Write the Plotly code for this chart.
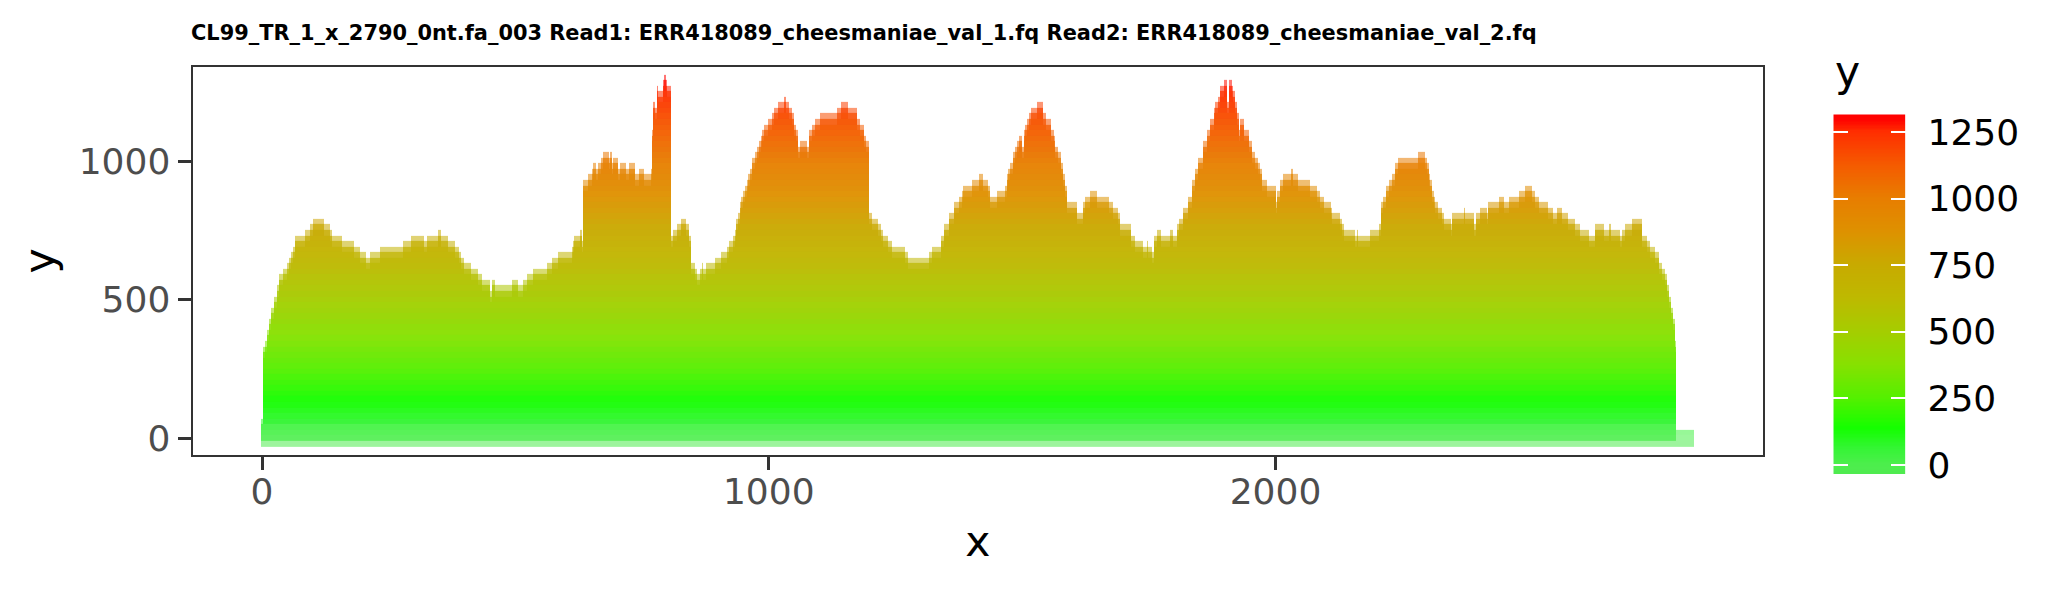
import numpy as np
import plotly.graph_objects as go

TITLE = "CL99_TR_1_x_2790_0nt.fa_003 Read1: ERR418089_cheesmaniae_val_1.fq Read2: ERR418089_cheesmaniae_val_2.fq"

position = [
 -2,2,6,10,14,18,24,30,34,42,49,54,58,62,66,85,95,101,123,134,139,158,182,193,205,213,233,279,294,319,325,348,353,367,381,388,393,399,412,426,434,450,453,
 460,494,506,516,522,535,562,573,585,611,614,615,628,631,633,644,651,654,660,664,669,672,684,687,690,693,702,707,718,724,737,743,754,767,770,772,776,780,782,791,794,798,800,807,808,812,818,826,837,843,846,847,855,858,864,868,871,876,893,906,918,922,930,
 933,936,939,943,946,950,953,957,960,962,966,972,977,981,985,987,990,999,1006,1011,1019,1030,1034,1039,1045,1049,1054,1057,1062,1075,1080,1085,1091,1101,1134,1143,1156,1175,1180,1187,1191,1197,1198,1203,1216,1221,1226,1235,1243,1268,1274,1316,1323,1340,1345,1355,1366,1376,1382,1383,1402,
 1414,1423,1432,1437,1450,1466,1470,1473,1477,1481,1485,1489,1494,1499,1503,1506,1510,1514,1518,1529,1542,1547,1557,1562,1565,1570,1576,1581,1585,1588,1608,1620,1624,1634,1647,1672,1680,1690,1694,1715,1722,1738,1746,1749,1756,1761,1766,1774,1792,1797,1805,1810,1818,1828,1835,1841,1848,1856,1864,1871,1879,
 1881,1886,1890,1899,1905,1909,1914,1917,1920,1924,1928,1930,1937,1947,1953,1960,1965,1970,1974,1983,2000,2003,2009,2014,2031,2034,2045,2068,2082,2088,2095,2110,2112,2128,2132,2136,2157,2160,2163,2187,2205,2208,2213,2218,2223,2230,2235,2241,2282,2295,2299,2303,2305,2309,2312,2315,2320,2328,2332,2347,2349,
 2371,2374,2391,2395,2404,2417,2420,2442,2450,2460,2480,2493,2506,2512,2519,2537,2548,2555,2565,2577,2591,2601,2619,2631,2649,2658,2662,2680,2683,2690,2703,2724,2733,2739,2749,2757,2762,2768,2772,2777,2781,2785,2789,2791,
]
coverage = [
 70,331,353,391,439,473,511,553,593,611,631,653,673,694,732,751,773,792,773,751,732,712,691,672,652,672,691,712,732,712,732,751,732,712,691,672,652,631,611,593,571,529,571,
 552,571,552,571,593,612,631,652,672,691,712,732,751,712,932,953,972,992,972,992,1011,1031,1011,1031,992,1011,972,992,972,992,953,972,953,972,1112,1214,1196,1270,1250,1292,1311,1292,1270,853,733,751,773,792,773,732,712,631,611,593,612,631,611,631,652,672,691,712,732,
 750,793,812,852,872,893,914,932,953,972,1012,1031,1052,1072,1091,1112,1132,1151,1172,1192,1211,1232,1211,1193,1172,1132,1112,1052,1072,1052,1112,1132,1151,1172,1192,1211,1192,1151,1132,1091,1072,1052,812,792,773,751,732,712,691,672,652,672,691,732,773,812,852,872,893,912,932,
 953,932,912,872,892,912,952,972,992,1031,1052,1072,1091,1052,1112,1132,1151,1172,1192,1211,1172,1151,1112,1091,1052,1031,992,952,914,852,812,852,872,892,872,852,832,812,773,732,712,691,712,691,673,732,751,732,751,732,772,792,833,872,932,972,1012,1072,1112,1151,1192,
 1211,1232,1272,1292,1214,1292,1272,1252,1211,1172,1112,1151,1112,1072,1031,1012,992,972,932,912,848,893,932,952,972,952,932,912,892,872,852,832,812,792,772,751,731,751,731,751,772,852,872,912,932,952,992,1012,1031,1012,992,952,932,892,872,852,832,812,792,772,812,
 833,812,772,812,832,812,852,872,852,872,892,912,892,872,852,832,812,832,812,792,773,751,732,772,751,772,751,731,751,772,792,732,712,691,672,631,611,593,553,511,473,433,353,34,
]
x_end = 2825
colorbar_ticks = [0, 250, 500, 750, 1000, 1250]
y_ticks = [0, 500, 1000]
x_ticks = [0, 1000, 2000]

# colour scale
VMIN, VMAX = -34, 1316
scale_values = [-34, 0, 60, 135, 250, 375, 500, 625, 750, 875, 1000, 1125, 1250, 1290, 1316]
scale_colors = ["#50EB50", "#4CEE4C", "#34F534", "#14FF00", "#55F000", "#87E100", "#A5CD00", "#BEB900",
                "#C8AA00", "#DE9100", "#E87D00", "#F55A00", "#FF2D00", "#FF0500", "#FF0000"]
colorscale = [[(v - VMIN) / (VMAX - VMIN), c] for v, c in zip(scale_values, scale_colors)]

W, H = 2066, 590
L, R, T, B = 192.5, 1763, 66.6, 455.4

xs = np.array(position, float)
cov = np.array(coverage, float)
x_edges = np.append(xs, x_end)
y_edges = np.concatenate([[-31], np.arange(-8, 1340, 20)])
y_cent = (y_edges[:-1] + y_edges[1:]) / 2
tops = y_edges[1:]


def layer(drop, min_row, with_tail):
    z = np.full((len(y_cent), len(xs)), np.nan)
    for j, c in enumerate(cov):
        if not with_tail and xs[j] >= 2791:
            continue
        mask = tops <= c - drop + 6
        mask[:min_row] = False
        z[mask, j] = y_cent[mask]
    return z


fig = go.Figure()
for drop, min_row, tail, op in [(0, 0, True, 0.55), (20, 1, False, 0.75), (40, 4, False, 0.6)]:
    fig.add_trace(go.Heatmap(x=x_edges, y=y_edges, z=layer(drop, min_row, tail), zmin=VMIN, zmax=VMAX,
                             colorscale=colorscale, showscale=False, opacity=op, zsmooth=False,
                             hoverongaps=False, name="y"))

legend_y = np.arange(VMIN, VMAX + 1, 5.0)
fig.add_trace(go.Heatmap(x=[0, 1], y=np.append(legend_y, VMAX + 5), z=legend_y[:, None], zmin=VMIN, zmax=VMAX,
                         colorscale=colorscale, showscale=False, xaxis="x2", yaxis="y2", zsmooth=False))

ppx = (768.75 - 262) / 1000
ppy = (438.5 - 161) / 1000
axis_common = dict(automargin=False, showgrid=False, zeroline=False, showline=True, mirror=True, linecolor="#333333", linewidth=2,
                   ticks="outside", ticklen=13, tickwidth=2.5, tickcolor="#333333",
                   tickfont=dict(family="DejaVu Sans", size=36, color="#4d4d4d"))
fig.update_layout(
    width=W, height=H, margin=dict(l=0, r=0, t=0, b=0, autoexpand=False), paper_bgcolor="white", plot_bgcolor="white",
    showlegend=False,
    title=dict(text=TITLE, x=191 / W, xref="paper", xanchor="left", y=1 - 33 / H, yref="paper", yanchor="middle",
               font=dict(family="DejaVu Sans", size=20.9, color="black", weight=700)),
    xaxis=dict(domain=[L / W, R / W], range=[(L - 262) / ppx, (R - 262) / ppx], tickvals=x_ticks, ticklabelstandoff=-10, **axis_common,
               title=dict(text="x", standoff=16, font=dict(family="DejaVu Sans", size=42.5, color="black"))),
    yaxis=dict(domain=[1 - B / H, 1 - T / H], range=[(438.5 - B) / ppy, (438.5 - T) / ppy], tickvals=y_ticks, **axis_common,
               title=dict(text="y", standoff=11, font=dict(family="DejaVu Sans", size=42.5, color="black"))),
    xaxis2=dict(domain=[1833.3 / W, 1905.5 / W], range=[0, 1], visible=False, anchor="y2", automargin=False),
    yaxis2=dict(domain=[1 - 474 / H, 1 - 114.4 / H], range=[VMIN, VMAX], anchor="x2", side="right", tickvals=colorbar_ticks,
                automargin=False, ticks="inside", mirror="ticks", ticklen=15, tickwidth=2, tickcolor="white", showgrid=False,
                zeroline=False, showline=False, ticklabelstandoff=21,
                tickfont=dict(family="DejaVu Sans", size=36, color="black")),
    annotations=[dict(text="y", xref="paper", yref="paper", x=1832.5 / W, y=1 - 71 / H, xanchor="left", yanchor="middle",
                      showarrow=False, font=dict(family="DejaVu Sans", size=42.5, color="black"))],
)
assert len(position) == len(coverage)
fig.write_html("out.html", config=dict(displayModeBar=False),
               post_script="document.body.style.margin='0';document.body.style.overflow='hidden';")
